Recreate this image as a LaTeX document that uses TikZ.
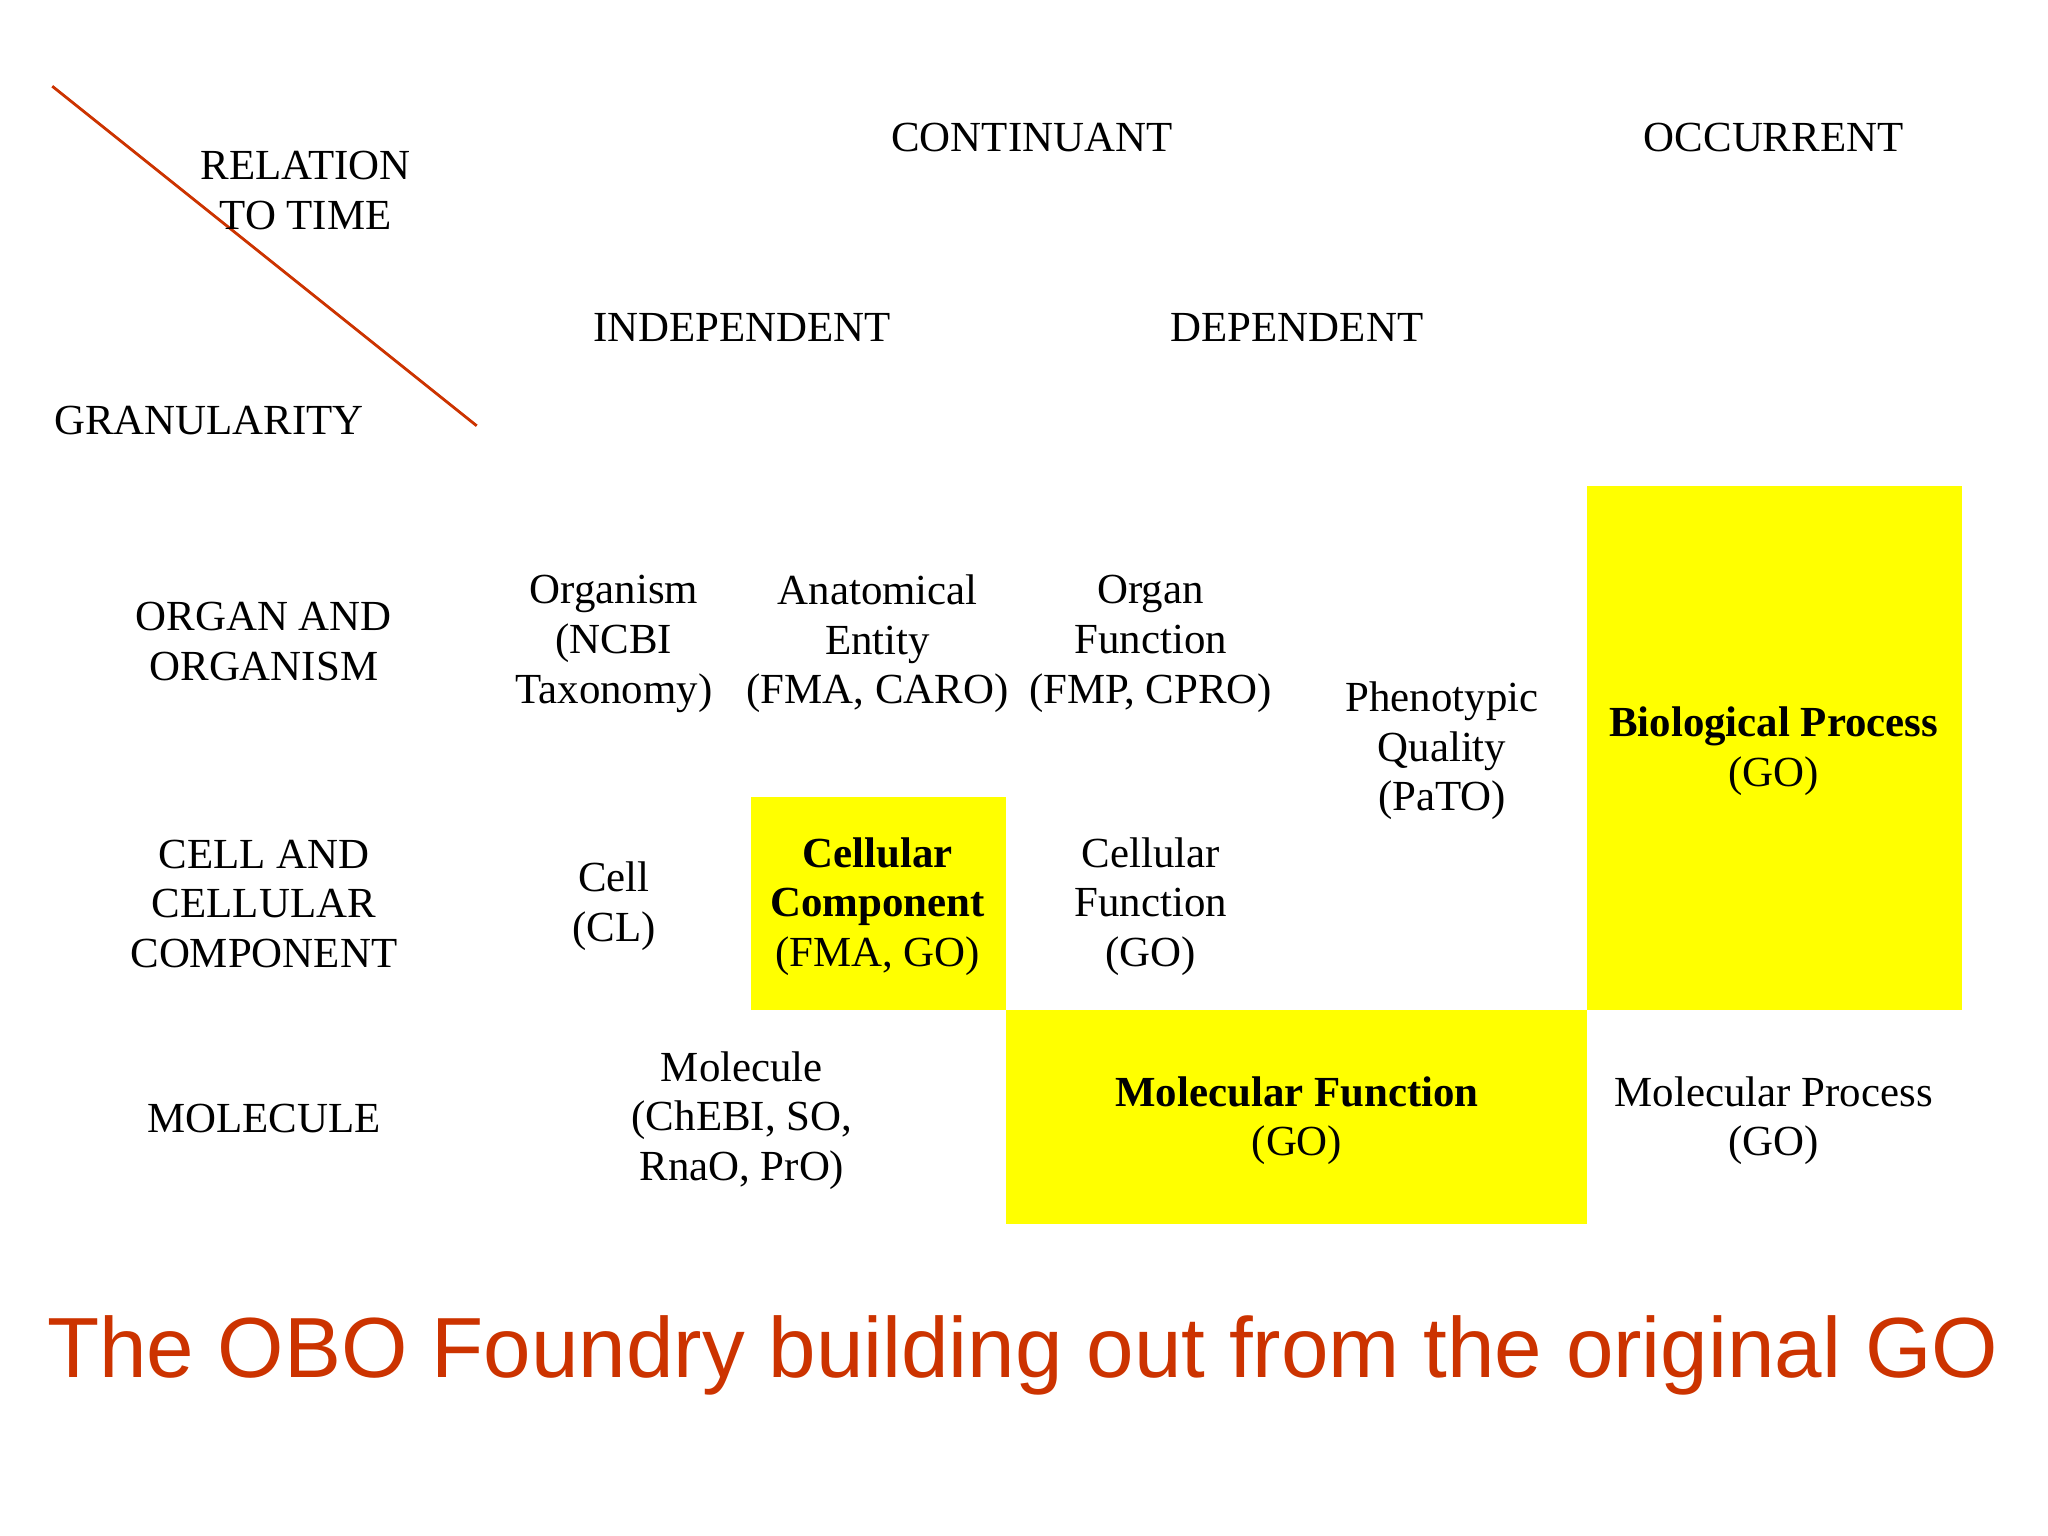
\documentclass[tikz,border=0pt]{standalone}
\usepackage{fontspec}
\setmainfont{Liberation Serif}
\newfontfamily\titlefont{Liberation Sans}
\definecolor{obored}{HTML}{CC3300}
\definecolor{oboyel}{HTML}{FFFF00}
\begin{document}
\begin{tikzpicture}[x=0.013061cm,y=-0.013061cm,
  lbl/.style={align=center,font=\fontsize{12.2}{14.1}\selectfont,inner sep=0pt},
  ybox/.style={fill=oboyel,draw=none}]
\useasboundingbox (0,0) rectangle (1568,1176);
\fill[ybox] (1215,372) rectangle (1502,773);
\fill[ybox] (575,610) rectangle (770,773);
\fill[ybox] (770,773) rectangle (1215,937);
\draw[obored,line width=0.8pt] (40,66) coordinate (l1) -- (365,326) coordinate (l2);
\node[lbl] (rt) at (234,146) {RELATION\\TO TIME};
\node[lbl] (cont) at (790,105) {CONTINUANT};
\node[lbl] (occ) at (1358,105) {OCCURRENT};
\node[lbl] (ind) at (568,251) {INDEPENDENT};
\node[lbl] (dep) at (993,251) {DEPENDENT};
\node[lbl] (gran) at (160,322) {GRANULARITY};
\node[lbl] (r1) at (202,491) {ORGAN AND\\ORGANISM};
\node[lbl] (r2) at (202,692) {CELL AND\\CELLULAR\\COMPONENT};
\node[lbl] (r3) at (202,856) {MOLECULE};
\node[lbl] (org) at (470,493) {Organism\\(NCBI\\Taxonomy)};
\node[lbl] (ana) at (672,493) {Anatomical\\Entity\\(FMA, CARO)};
\node[lbl] (ofn) at (881,493) {Organ\\Function\\(FMP, CPRO)};
\node[lbl] (phe) at (1104,575) {Phenotypic\\Quality\\(PaTO)};
\node[lbl] (bp) at (1358,575) {\textbf{Biological Process}\\(GO)};
\node[lbl] (cell) at (470,694) {Cell\\(CL)};
\node[lbl] (cc) at (672,694) {\textbf{Cellular}\\\textbf{Component}\\(FMA, GO)};
\node[lbl] (cf) at (881,694) {Cellular\\Function\\(GO)};
\node[lbl] (mol) at (568,858) {Molecule\\(ChEBI, SO,\\RnaO, PrO)};
\node[lbl] (mf) at (993,858) {\textbf{Molecular Function}\\(GO)};
\node[lbl] (mp) at (1358,858) {Molecular Process\\(GO)};
\node[inner sep=0pt,text=obored,font=\titlefont\fontsize{24.3}{28}\selectfont] (title) at (783,1038) {The OBO Foundry building out from the original GO};
\end{tikzpicture}
\end{document}
